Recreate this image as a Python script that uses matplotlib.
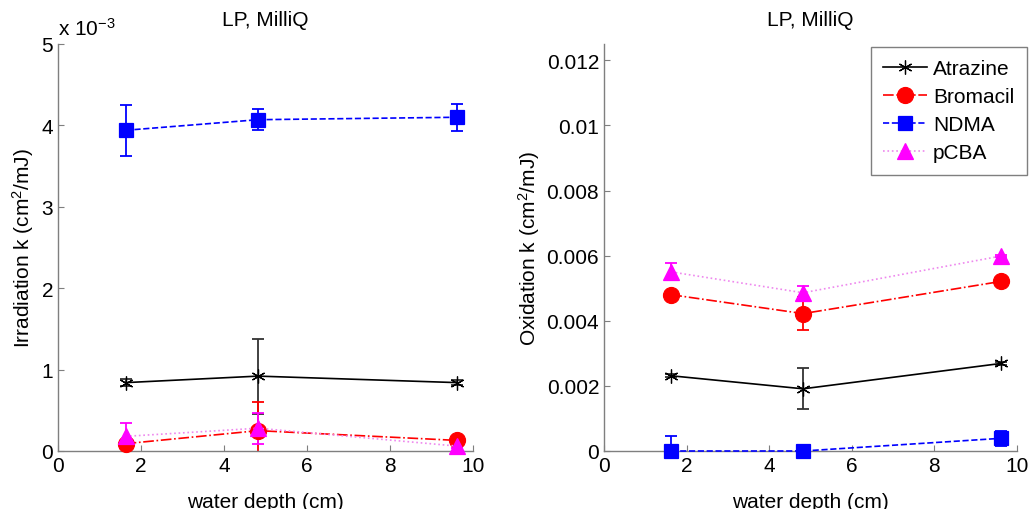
import matplotlib
matplotlib.use("Agg")
import matplotlib.pyplot as plt
import numpy as np

plt.rcParams['font.family'] = ['Liberation Sans', 'DejaVu Sans']
plt.rcParams['mathtext.fontset'] = 'custom'
plt.rcParams['mathtext.rm'] = 'Liberation Sans'
plt.rcParams['mathtext.it'] = 'Liberation Sans:italic'
plt.rcParams['mathtext.bf'] = 'Liberation Sans:bold'

# ---- data ----
depth = [1.63, 4.82, 9.62]
compounds = ['Atrazine', 'Bromacil', 'NDMA', 'pCBA']

# Irradiation k (x 10^-3 cm^2/mJ)
irr_atrazine = [0.84, 0.92, 0.84]
irr_atrazine_err = [0.04, 0.46, 0.03]
irr_bromacil = [0.09, 0.25, 0.13]
irr_bromacil_err = [0.05, 0.35, 0.02]
irr_ndma = [3.94, 4.07, 4.10]
irr_ndma_err = [0.31, 0.13, 0.165]
irr_pcba = [0.18, 0.28, 0.06]
irr_pcba_err = [0.16, 0.19, 0.02]

# Oxidation k (cm^2/mJ)
ox_atrazine = [0.00231, 0.00191, 0.00269]
ox_atrazine_err = [0.00005, 0.00063, 0.00005]
ox_bromacil = [0.00480, 0.00422, 0.00521]
ox_bromacil_err = [0.00005, 0.00050, 0.00005]
ox_ndma = [0.0, 0.0, 0.00039]
ox_ndma_err = [0.00047, 0.00002, 0.00023]
ox_pcba = [0.00550, 0.00486, 0.00599]
ox_pcba_err = [0.00026, 0.00022, 0.00003]

x_ticks = [0, 2, 4, 6, 8, 10]
irr_ticks = [0, 1, 2, 3, 4, 5]
ox_ticks = [0, 0.002, 0.004, 0.006, 0.008, 0.010, 0.012]
ox_ticklabels = ['0', '0.002', '0.004', '0.006', '0.008', '0.01', '0.012']

styles = {
    'Atrazine': dict(color='black', ls='-', marker=(6, 2, 0), ms=10, mfc='black', lc='black', ec='#333333', lw=1.2),
    'Bromacil': dict(color='red', ls='-.', marker='o', ms=11.5, mfc='red', lc='red', ec='red', lw=1.2),
    'NDMA': dict(color='blue', ls='--', marker='s', ms=10, mfc='blue', lc='blue', ec='blue', lw=1.2),
    'pCBA': dict(color='magenta', ls=':', marker='^', ms=11.5, mfc='magenta', lc='#ee88ee', ec='magenta', lw=1.2),
}

FS = 15
GRAY = '#7f7f7f'

fig = plt.figure(figsize=(10.35, 5.10), dpi=100)
axL = fig.add_axes([58/1035, 58/510, 415/1035, 407/510])
axR = fig.add_axes([604/1035, 58/510, 413/1035, 407/510])


def draw(ax, series):
    handles = []
    for name, (vals, errs) in zip(compounds, series):
        st = styles[name]
        ax.errorbar(depth, vals, yerr=errs, color=st['ec'], ecolor=st['ec'],
                    elinewidth=1.3, capsize=4, capthick=1.3, fmt='none', zorder=2)
        ln, = ax.plot(depth, vals, color=st['lc'], ls=st['ls'], lw=st['lw'],
                      marker=st['marker'], ms=st['ms'], mfc=st['mfc'], mec=st['color'],
                      mew=0.9, zorder=3, clip_on=False)
        handles.append(ln)
    return handles


def style_axes(ax):
    for s in ['top', 'right']:
        ax.spines[s].set_visible(False)
    for s in ['left', 'bottom']:
        ax.spines[s].set_color(GRAY)
        ax.spines[s].set_linewidth(1.0)
    ax.tick_params(direction='in', length=4, color=GRAY, labelsize=FS, width=0.8)
    ax.set_xlim(0, 10)
    ax.set_xticks(x_ticks)
    ax.set_xlabel('water depth (cm)', fontsize=FS, labelpad=12)
    ax.set_title('LP, MilliQ', fontsize=FS, pad=14)


draw(axL, [(irr_atrazine, irr_atrazine_err), (irr_bromacil, irr_bromacil_err),
           (irr_ndma, irr_ndma_err), (irr_pcba, irr_pcba_err)])
style_axes(axL)
axL.set_ylim(0, 5)
axL.set_yticks(irr_ticks)
axL.set_ylabel('Irradiation k (cm$^2$/mJ)', fontsize=FS, labelpad=4)
axL.text(0.0, 1.012, 'x 10$^{-3}$', transform=axL.transAxes, fontsize=FS,
         ha='left', va='bottom')

hs = draw(axR, [(ox_atrazine, ox_atrazine_err), (ox_bromacil, ox_bromacil_err),
                (ox_ndma, ox_ndma_err), (ox_pcba, ox_pcba_err)])
style_axes(axR)
axR.set_ylim(0, 0.0125)
axR.set_yticks(ox_ticks)
axR.set_yticklabels(ox_ticklabels)
axR.set_ylabel('Oxidation k (cm$^2$/mJ)', fontsize=FS, labelpad=3)

leg = axR.legend(hs, compounds, loc='upper right', bbox_to_anchor=(1.024, 0.993),
                 borderaxespad=0, fontsize=FS, frameon=True, fancybox=False,
                 framealpha=1, edgecolor=GRAY, handlelength=2.1, handletextpad=0.3,
                 labelspacing=0.43, borderpad=0.6)
leg.get_frame().set_linewidth(1.0)

fig.savefig('out.png', dpi=100)
